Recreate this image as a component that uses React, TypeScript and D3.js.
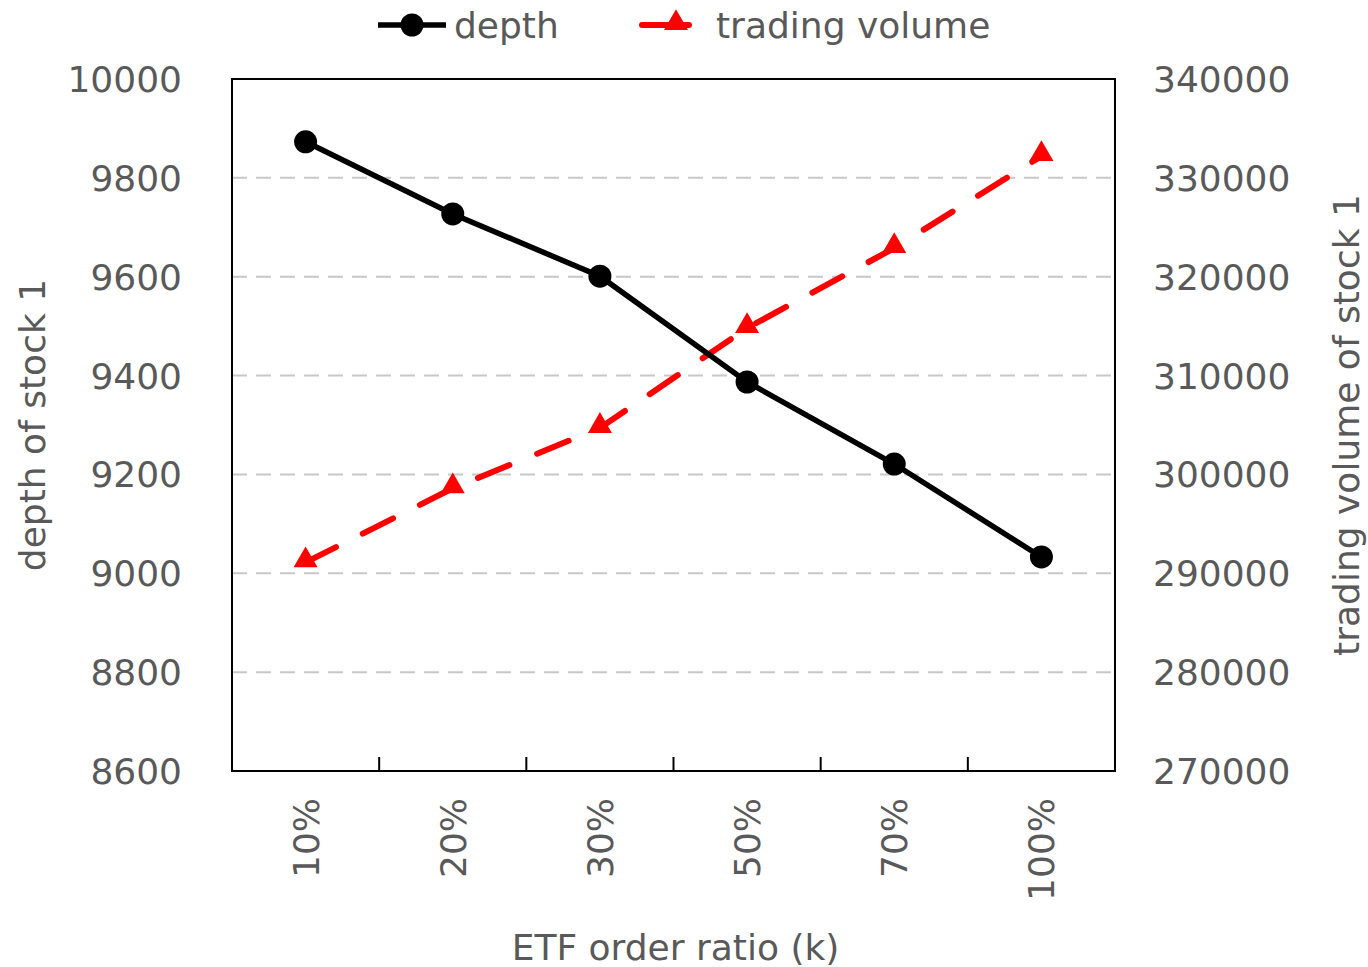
import React from "react";
import * as d3 from "d3";

const categories = ["10%", "20%", "30%", "50%", "70%", "100%"];
const depthValues = [9873, 9727, 9601, 9387, 9221, 9033];
const volumeValues = [291100, 298600, 304700, 314800, 322900, 332200];
const leftTicks = [8600, 8800, 9000, 9200, 9400, 9600, 9800, 10000];
const rightTicks = [270000, 280000, 290000, 300000, 310000, 320000, 330000, 340000];

const W = 1368, H = 967;
const L = 232, R = 1115, T = 79, B = 771;
const FONT = "'DejaVu Sans', Verdana, sans-serif";
const GRAY = "#595959";
const FS = 36;

export default function App() {
  const x = d3.scaleBand<string>().domain(categories).range([L, R]);
  const yL = d3.scaleLinear().domain([8600, 10000]).range([B, T]);
  const yR = d3.scaleLinear().domain([270000, 340000]).range([B, T]);
  const cx = (c: string) => (x(c) as number) + x.bandwidth() / 2;

  const depthLine = d3.line<number>().x((_, i) => cx(categories[i])).y((d) => yL(d))(depthValues) as string;
  const volLine = d3.line<number>().x((_, i) => cx(categories[i])).y((d) => yR(d))(volumeValues) as string;
  const tri = d3.symbol().type(d3.symbolTriangle).size(250)() as string;

  return (
    <svg width={W} height={H} style={{ position: "absolute", left: 0, top: 0, background: "#fff" }} fontFamily={FONT}>
      <rect x={0} y={0} width={W} height={H} fill="#fff" />
      {leftTicks.slice(1, -1).map((t) => (
        <line key={t} x1={L} x2={R} y1={yL(t)} y2={yL(t)} stroke="#c8c8c8" strokeWidth={2} strokeDasharray="15,9" />
      ))}
      <rect x={L} y={T} width={R - L} height={B - T} fill="none" stroke="#000" strokeWidth={2} />
      {categories.slice(1).map((c) => (
        <line key={c} x1={x(c)} x2={x(c)} y1={B} y2={B - 14} stroke="#000" strokeWidth={2} />
      ))}
      {leftTicks.map((t) => (
        <text key={t} x={182} y={yL(t)} dy="0.36em" textAnchor="end" fontSize={FS} fill={GRAY}>{t}</text>
      ))}
      {rightTicks.map((t) => (
        <text key={t} x={1153} y={yR(t)} dy="0.36em" textAnchor="start" fontSize={FS} fill={GRAY}>{t}</text>
      ))}
      {categories.map((c) => (
        <text key={c} transform={`translate(${cx(c)},${798}) rotate(-90)`} dy="0.36em" textAnchor="end" fontSize={FS} fill={GRAY}>{c}</text>
      ))}
      <text transform={`translate(32,${(T + B) / 2}) rotate(-90)`} dy="0.36em" textAnchor="middle" fontSize={FS} fill={GRAY}>depth of stock 1</text>
      <text transform={`translate(1346,${(T + B) / 2}) rotate(-90)`} dy="0.36em" textAnchor="middle" fontSize={FS} fill={GRAY}>trading volume of stock 1</text>
      <text x={(L + R) / 2 + 2} y={947} dy="0.36em" textAnchor="middle" fontSize={FS} fill={GRAY}>ETF order ratio (k)</text>

      <path d={volLine} fill="none" stroke="#ff0000" strokeWidth={6} strokeDasharray="34,30" strokeLinecap="round" />
      <path d={depthLine} fill="none" stroke="#000" strokeWidth={5.5} />
      {volumeValues.map((v, i) => (
        <path key={i} d={tri} transform={`translate(${cx(categories[i])},${yR(v) - 2})`} fill="#ff0000" />
      ))}
      {depthValues.map((v, i) => (
        <circle key={i} cx={cx(categories[i])} cy={yL(v)} r={11.5} fill="#000" />
      ))}

      <g>
        <line x1={378} x2={446} y1={25} y2={25} stroke="#000" strokeWidth={5.5} />
        <circle cx={412} cy={25} r={11.5} fill="#000" />
        <text x={454} y={25} dy="0.36em" fontSize={FS} fill={GRAY}>depth</text>
        <line x1={642} x2={712} y1={25} y2={25} stroke="#ff0000" strokeWidth={6} strokeDasharray="47,23" strokeLinecap="round" />
        <path d={tri} transform={`translate(676,23)`} fill="#ff0000" />
        <text x={716} y={25} dy="0.36em" fontSize={FS} fill={GRAY}>trading volume</text>
      </g>
    </svg>
  );
}
